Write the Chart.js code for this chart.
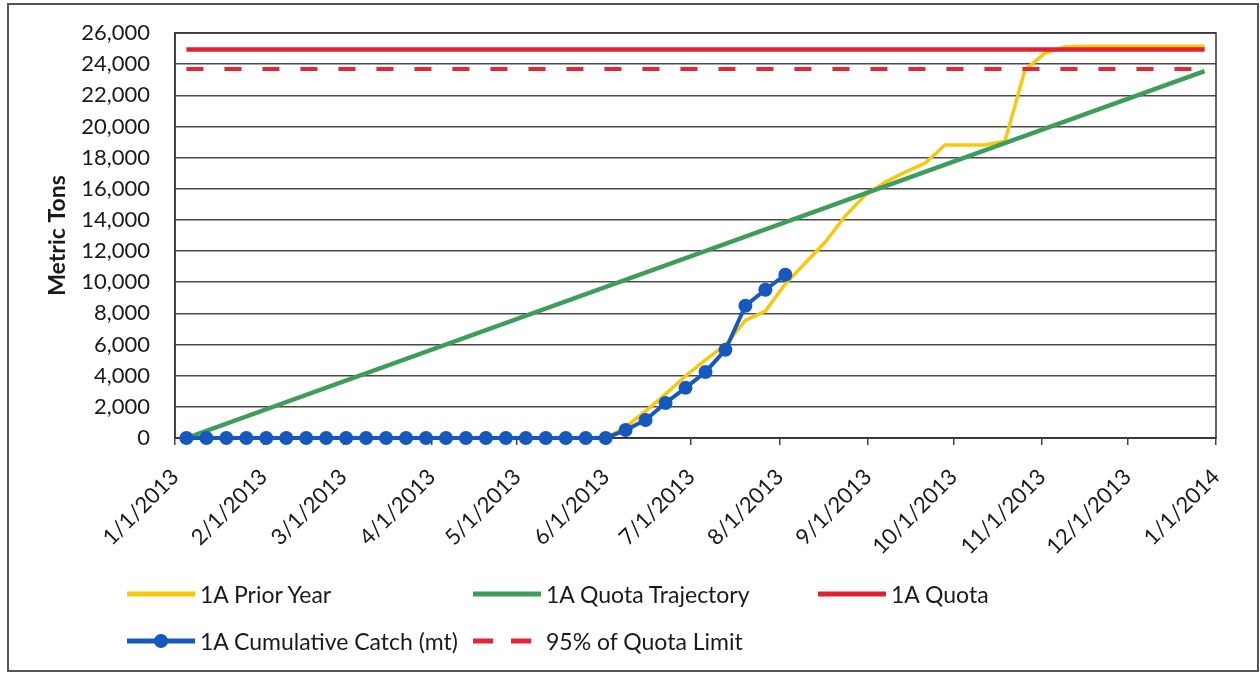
<!DOCTYPE html>
<html>
<head>
<meta charset="utf-8">
<script src="https://cdn.jsdelivr.net/npm/chart.js@4.4.1/dist/chart.umd.min.js"></script>
<style>
  html, body { margin: 0; padding: 0; background: #fff; }
  #wrap { position: relative; width: 1260px; height: 674px; overflow: hidden; }
  #frame { position: absolute; left: 7px; top: 3px; width: 1248px; height: 665px; border: 2px solid #555; box-sizing: content-box; pointer-events: none; }
  canvas { position: absolute; left: 0; top: 0; }
  .lg { position: absolute; display: flex; align-items: center; transform: translateY(-50%);
        font-family: Lato, "Noto Sans", sans-serif; font-size: 23px; color: #1a1a1a; white-space: nowrap; }
  .lg svg { display: block; margin-right: 5px; }
</style>
</head>
<body>
<div id="wrap">
  <canvas id="c" width="1260" height="674"></canvas>
  <div id="frame"></div>
  <div id="legend"></div>
</div>
<script>
// ---------------- DATA ----------------
const weekDates = [
  "1/5/2013","1/12/2013","1/19/2013","1/26/2013",
  "2/2/2013","2/9/2013","2/16/2013","2/23/2013",
  "3/2/2013","3/9/2013","3/16/2013","3/23/2013","3/30/2013",
  "4/6/2013","4/13/2013","4/20/2013","4/27/2013",
  "5/4/2013","5/11/2013","5/18/2013","5/25/2013",
  "6/1/2013","6/8/2013","6/15/2013","6/22/2013","6/29/2013",
  "7/6/2013","7/13/2013","7/20/2013","7/27/2013",
  "8/3/2013","8/10/2013","8/17/2013","8/24/2013","8/31/2013",
  "9/7/2013","9/14/2013","9/21/2013","9/28/2013",
  "10/5/2013","10/12/2013","10/19/2013","10/26/2013",
  "11/2/2013","11/9/2013","11/16/2013","11/23/2013","11/30/2013",
  "12/7/2013","12/14/2013","12/21/2013","12/28/2013"
];
const priorYear = [
  0,0,0,0, 0,0,0,0, 0,0,0,0,0, 0,0,0,0, 0,0,0,0,
  0,710,1730,2820,3980,
  5010,5970,7550,8150,
  9900,11230,12580,14250,15600,
  16430,17070,17650,18810,
  18810,18810,19060,23620,
  24710,25100,25150,25150,25150,
  25150,25150,25150,25150
];
const cumulativeCatch = [
  0,0,0,0, 0,0,0,0, 0,0,0,0,0, 0,0,0,0, 0,0,0,0,
  0,510,1160,2250,3220,
  4240,5660,8490,9520,
  10480
];
const trajectoryDates = ["1/5/2013", "12/28/2013"];
const trajectoryValues = [0, 23550];
const quotaDates = ["1/5/2013", "12/28/2013"];
const quotaValues = [24940, 24940];
const quota95Values = [23693, 23693];

const monthTicks = ["1/1/2013","2/1/2013","3/1/2013","4/1/2013","5/1/2013","6/1/2013",
  "7/1/2013","8/1/2013","9/1/2013","10/1/2013","11/1/2013","12/1/2013","1/1/2014"];
const yTicks = [0,2000,4000,6000,8000,10000,12000,14000,16000,18000,20000,22000,24000,26000];

const seriesNames = ["1A Prior Year","1A Quota Trajectory","1A Quota","1A Cumulative Catch (mt)","95% of Quota Limit"];
const seriesColors = ["#F8C80C","#3C9E5A","#E3202C","#1659BE","#E82534"];

// ---------------- HELPERS ----------------
function dayOf(s) {
  const [m, d, y] = s.split("/").map(Number);
  return (Date.UTC(y, m - 1, d) - Date.UTC(2013, 0, 1)) / 86400000;
}
function pts(dates, vals) { return vals.map((v, i) => ({ x: dayOf(dates[i]), y: v })); }

const FONT = "Lato";
const tickFont = { family: FONT, size: 22 };

// ---------------- CHART ----------------
const plotBox = {
  id: 'plotBox',
  beforeDatasetsDraw(chart) {
    const { ctx, chartArea: a } = chart;
    ctx.save();
    ctx.strokeStyle = '#333';
    ctx.lineWidth = 1.5;
    ctx.strokeRect(a.left, a.top, a.right - a.left, a.bottom - a.top);
    ctx.restore();
  }
};

new Chart(document.getElementById('c'), {
  type: 'line',
  data: {
    datasets: [
      { label: seriesNames[4], data: pts(quotaDates, quota95Values), borderColor: seriesColors[4],
        borderWidth: 4, borderDash: [17, 21], pointRadius: 0, tension: 0 },
      { label: seriesNames[3], data: pts(weekDates, cumulativeCatch), borderColor: seriesColors[3],
        backgroundColor: seriesColors[3], borderWidth: 4, pointRadius: 7, pointBorderWidth: 0,
        pointBackgroundColor: seriesColors[3], clip: false, tension: 0 },
      { label: seriesNames[2], data: pts(quotaDates, quotaValues), borderColor: seriesColors[2],
        borderWidth: 4.5, pointRadius: 0 },
      { label: seriesNames[1], data: pts(trajectoryDates, trajectoryValues), borderColor: seriesColors[1],
        borderWidth: 4.5, pointRadius: 0 },
      { label: seriesNames[0], data: pts(weekDates, priorYear), borderColor: seriesColors[0],
        borderWidth: 3.5, pointRadius: 0, tension: 0 }
    ]
  },
  options: {
    responsive: false,
    animation: false,
    devicePixelRatio: 1,
    layout: { padding: { left: 8, top: 33, right: 44, bottom: 116 } },
    plugins: { legend: { display: false }, tooltip: { enabled: false } },
    scales: {
      x: {
        type: 'linear', min: 0, max: dayOf(monthTicks[monthTicks.length - 1]),
        afterBuildTicks: s => { s.ticks = monthTicks.map(t => ({ value: dayOf(t) })); },
        afterFit: s => { s.height = 120; s.paddingLeft = 0; s.paddingRight = 0; },
        ticks: { autoSkip: false, minRotation: 45, maxRotation: 45, padding: 19,
                 font: tickFont, color: '#1a1a1a',
                 callback: (v, i) => monthTicks[i] },
        grid: { drawOnChartArea: false, drawTicks: true, tickLength: 7, color: '#444', lineWidth: 1.5 },
        border: { display: true, color: '#333', width: 1.5 }
      },
      y: {
        min: yTicks[0], max: yTicks[yTicks.length - 1],
        afterBuildTicks: s => { s.ticks = yTicks.map(v => ({ value: v })); },
        afterFit: s => { s.width = 167; s.paddingTop = 0; s.paddingBottom = 0; },
        ticks: { padding: 25, font: tickFont, color: '#1a1a1a',
                 callback: v => Number(v).toLocaleString('en-US') },
        grid: { drawTicks: false, color: '#4a4a4a', lineWidth: 1.5 },
        border: { display: true, color: '#333', width: 1.5 },
        title: { display: true, text: 'Metric Tons', color: '#1a1a1a',
                 font: { family: FONT, size: 23, weight: 'bold' }, padding: { top: 36, bottom: 0 } }
      }
    }
  },
  plugins: [plotBox]
});

// ---------------- LEGEND (HTML) ----------------
const legendItems = [
  { i: 0, left: 127, top: 594 },
  { i: 1, left: 473, top: 594 },
  { i: 2, left: 818, top: 594 },
  { i: 3, left: 127, top: 641 },
  { i: 4, left: 473, top: 641 }
];
const lg = document.getElementById('legend');
legendItems.forEach(it => {
  const div = document.createElement('div');
  div.className = 'lg';
  div.style.left = it.left + 'px';
  div.style.top = it.top + 'px';
  const c = seriesColors[it.i];
  let svg;
  if (it.i === 4) {
    svg = `<svg width="68" height="18"><line x1="0" y1="9" x2="58" y2="9" stroke="${c}" stroke-width="5" stroke-dasharray="20 18"/></svg>`;
  } else if (it.i === 3) {
    svg = `<svg width="68" height="18"><line x1="0" y1="9" x2="68" y2="9" stroke="${c}" stroke-width="5"/><circle cx="34" cy="9" r="7" fill="${c}"/></svg>`;
  } else {
    svg = `<svg width="68" height="18"><line x1="0" y1="9" x2="68" y2="9" stroke="${c}" stroke-width="5"/></svg>`;
  }
  div.innerHTML = svg + '<span>' + seriesNames[it.i] + '</span>';
  lg.appendChild(div);
});
</script>
</body>
</html>
